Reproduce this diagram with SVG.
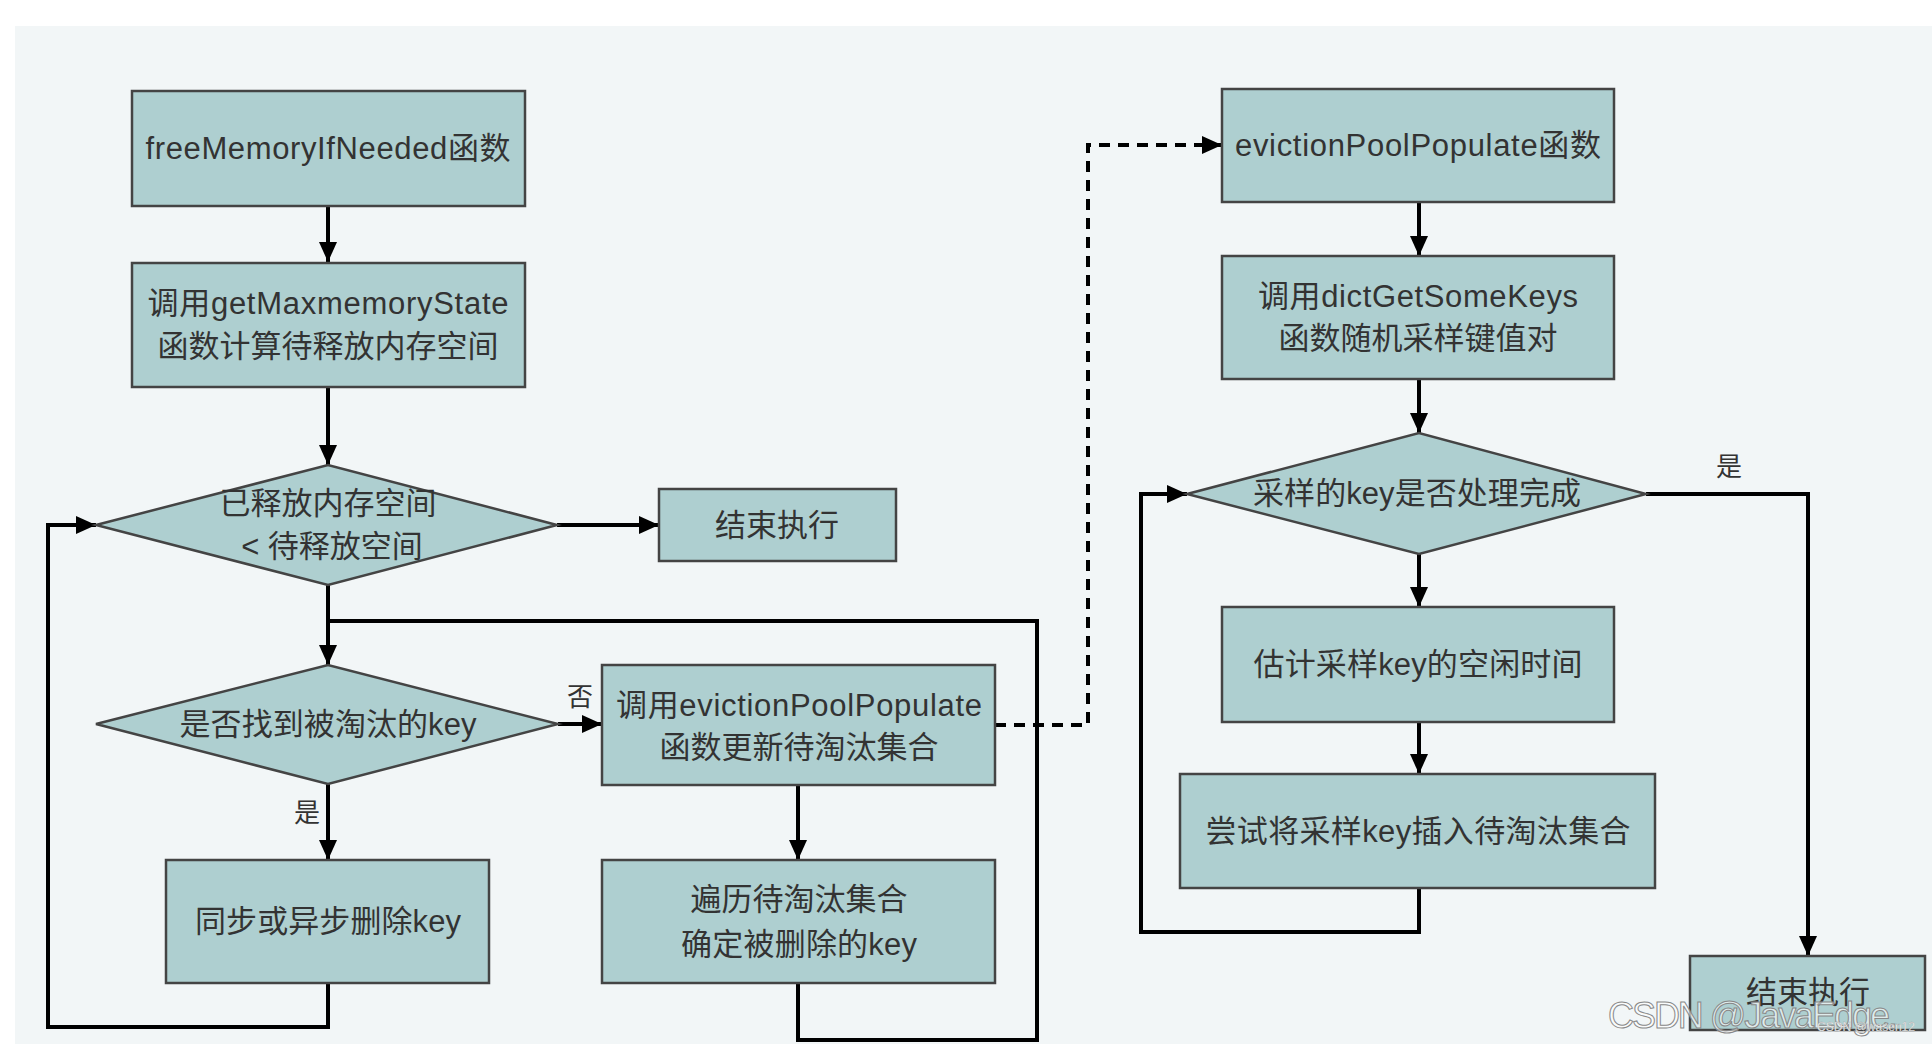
<svg xmlns="http://www.w3.org/2000/svg" width="1932" height="1044" viewBox="0 0 1932 1044">
<defs>
<style>
.box{fill:#aecfd0;stroke:#444;stroke-width:2.5}
.t{font-family:"Liberation Sans","Noto Sans CJK SC",sans-serif;font-size:31px;fill:#333;text-anchor:middle;dominant-baseline:central}
.lbl{font-family:"Liberation Sans","Noto Sans CJK SC",sans-serif;font-size:26px;fill:#333;text-anchor:middle;dominant-baseline:central}
.c{fill:none;stroke:#000;stroke-width:4}
.d{fill:none;stroke:#000;stroke-width:4;stroke-dasharray:11 8}
</style>
<marker id="ah" markerWidth="10" markerHeight="10" refX="9" refY="5" orient="auto" markerUnits="userSpaceOnUse" viewBox="0 0 10 10">
</marker>
<marker id="a" viewBox="0 0 20 20" refX="20" refY="10" markerWidth="20" markerHeight="20" markerUnits="userSpaceOnUse" orient="auto"><path d="M0,1 L20,10 L0,19 Z" fill="#000"/></marker>
</defs>
<rect x="0" y="0" width="1932" height="1044" fill="#fff"/>
<rect x="15" y="26" width="1917" height="1018" fill="#f2f6f7"/>

<g id="connectors">
<path class="c" d="M328,205 V262" marker-end="url(#a)"/>
<path class="c" d="M328,387 V465" marker-end="url(#a)"/>
<path class="c" d="M557,525 H659" marker-end="url(#a)"/>
<path class="c" d="M328,585 V665" marker-end="url(#a)"/>
<path class="c" d="M558,724 H602" marker-end="url(#a)"/>
<path class="c" d="M328,784 V860" marker-end="url(#a)"/>
<path class="c" d="M798,785 V860" marker-end="url(#a)"/>
<path class="c" d="M328,983 V1027 H48 V525 H96" marker-end="url(#a)"/>
<path class="c" d="M798,983 V1040 H1037 V621 H328"/>
<path class="d" d="M995,725 H1088 V145 H1222" marker-end="url(#a)"/>
<path class="c" d="M1419,202 V256" marker-end="url(#a)"/>
<path class="c" d="M1419,379 V433" marker-end="url(#a)"/>
<path class="c" d="M1419,554 V607" marker-end="url(#a)"/>
<path class="c" d="M1419,722 V774" marker-end="url(#a)"/>
<path class="c" d="M1419,888 V932 H1141 V494 H1187" marker-end="url(#a)"/>
<path class="c" d="M1646,494 H1808 V956" marker-end="url(#a)"/>
<text class="lbl" x="580" y="697">否</text>
<text class="lbl" x="307" y="813">是</text>
<text class="lbl" x="1729" y="467">是</text>
</g>

<g id="n1"><rect class="box" x="132" y="91" width="393" height="115"/><text class="t" x="328" y="148" textLength="365">freeMemoryIfNeeded函数</text></g>
<g id="n2"><rect class="box" x="132" y="263" width="393" height="124"/><text class="t" x="328" y="303" textLength="361">调用getMaxmemoryState</text><text class="t" x="328" y="346">函数计算待释放内存空间</text></g>
<g id="n3"><polygon class="box" points="96,525 328,465 557,525 328,585"/><text class="t" x="328" y="503">已释放内存空间</text><text class="t" x="332" y="546">&lt; 待释放空间</text></g>
<g id="n4"><rect class="box" x="659" y="489" width="237" height="72"/><text class="t" x="777" y="525">结束执行</text></g>
<g id="n5"><polygon class="box" points="96,724 328,665 558,724 328,784"/><text class="t" x="328" y="724" textLength="297">是否找到被淘汰的key</text></g>
<g id="n6"><rect class="box" x="602" y="665" width="393" height="120"/><text class="t" x="799" y="705" textLength="366">调用evictionPoolPopulate</text><text class="t" x="799" y="747">函数更新待淘汰集合</text></g>
<g id="n7"><rect class="box" x="166" y="860" width="323" height="123"/><text class="t" x="328" y="921" textLength="266">同步或异步删除key</text></g>
<g id="n8"><rect class="box" x="602" y="860" width="393" height="123"/><text class="t" x="799" y="899">遍历待淘汰集合</text><text class="t" x="799" y="944" textLength="236">确定被删除的key</text></g>
<g id="n9"><rect class="box" x="1222" y="89" width="392" height="113"/><text class="t" x="1418" y="145" textLength="366">evictionPoolPopulate函数</text></g>
<g id="n10"><rect class="box" x="1222" y="256" width="392" height="123"/><text class="t" x="1418" y="296" textLength="320">调用dictGetSomeKeys</text><text class="t" x="1418" y="338">函数随机采样键值对</text></g>
<g id="n11"><polygon class="box" points="1187,494 1419,433 1646,494 1419,554"/><text class="t" x="1417" y="493" textLength="328">采样的key是否处理完成</text></g>
<g id="n12"><rect class="box" x="1222" y="607" width="392" height="115"/><text class="t" x="1418" y="664" textLength="329">估计采样key的空闲时间</text></g>
<g id="n13"><rect class="box" x="1180" y="774" width="475" height="114"/><text class="t" x="1418" y="831" textLength="425">尝试将采样key插入待淘汰集合</text></g>
<g id="n14"><rect class="box" x="1690" y="956" width="235" height="74"/><text class="t" x="1808" y="992">结束执行</text></g>

<g id="watermark">
<text x="1608" y="1015" font-family="Liberation Sans,sans-serif" font-size="36" fill="#fff" fill-opacity="0.6" stroke="#888" stroke-width="1" dominant-baseline="central" textLength="290">CSDN @JavaEdge.</text>
<text x="1817" y="1027" font-family="Liberation Sans,sans-serif" font-size="12" fill="#fff" stroke="#999" stroke-width="0.3" dominant-baseline="central" textLength="98">CSDN @wasen12</text>
</g>
</svg>
